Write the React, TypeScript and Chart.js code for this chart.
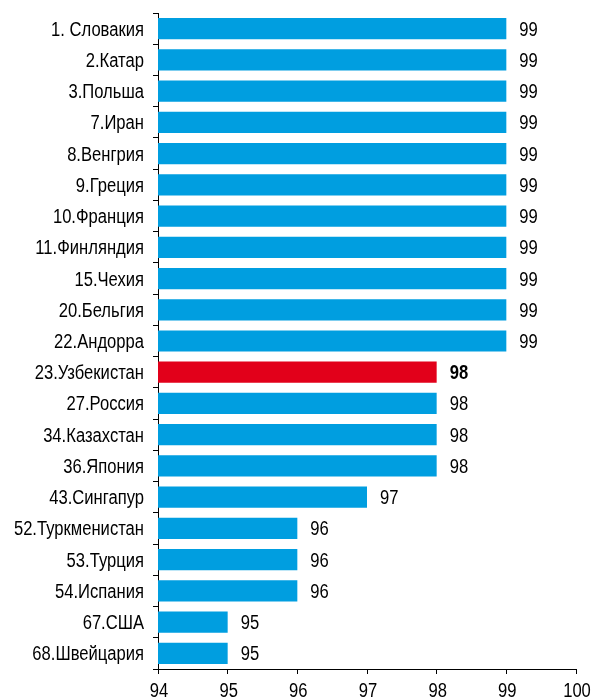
import React, { useEffect, useRef } from "react";
import { Chart, registerables } from "chart.js";

Chart.register(...registerables);

const categories = [
  "1. Словакия", "2.Катар", "3.Польша", "7.Иран", "8.Венгрия", "9.Греция",
  "10.Франция", "11.Финляндия", "15.Чехия", "20.Бельгия", "22.Андорра",
  "23.Узбекистан", "27.Россия", "34.Казахстан", "36.Япония", "43.Сингапур",
  "52.Туркменистан", "53.Турция", "54.Испания", "67.США", "68.Швейцария",
];
const values = [99, 99, 99, 99, 99, 99, 99, 99, 99, 99, 99, 98, 98, 98, 98, 97, 96, 96, 96, 95, 95];
const highlighted = ["23.Узбекистан"];
const xTicks = [94, 95, 96, 97, 98, 99, 100];

const BLUE = "#009ee0";
const RED = "#e2001a";
const FONT = "'Liberation Sans', Arial, sans-serif";
const FONT_SIZE = 20;
const NARROW = 0.83;

function narrowText(ctx: CanvasRenderingContext2D, text: string, x: number, y: number, align: CanvasTextAlign, bold: boolean) {
  ctx.save();
  ctx.font = `${bold ? "bold " : ""}${FONT_SIZE}px ${FONT}`;
  ctx.textAlign = align;
  ctx.fillStyle = "#000";
  ctx.translate(x, y);
  ctx.scale(NARROW, 1);
  ctx.fillText(text, 0, 0);
  ctx.restore();
}

const textLayer = {
  id: "textLayer",
  afterDraw(chart: any) {
    const ctx = chart.ctx as CanvasRenderingContext2D;
    const meta = chart.getDatasetMeta(0);
    const yScale = chart.scales.y;
    const xScale = chart.scales.x;
    ctx.save();
    ctx.textBaseline = "alphabetic";
    // category labels
    categories.forEach((c, i) => {
      const yc = yScale.getPixelForValue(i);
      narrowText(ctx, c, yScale.right - 14, yc + 7, "right", false);
    });
    // value labels
    meta.data.forEach((bar: any, i: number) => {
      const isHi = highlighted.includes(categories[i]);
      narrowText(ctx, String(values[i]), bar.x + 13, bar.y + 7, "left", isHi);
    });
    // x tick labels
    xTicks.forEach((v) => {
      const x = xScale.getPixelForValue(v);
      narrowText(ctx, String(v), x + 1, 697, "center", false);
    });
    ctx.restore();
  },
};

export default function App() {
  const ref = useRef<HTMLCanvasElement>(null);
  useEffect(() => {
    document.body.style.margin = "0";
    const chart = new Chart(ref.current!, {
      type: "bar",
      data: {
        labels: categories,
        datasets: [
          {
            data: values,
            backgroundColor: categories.map((c) => (highlighted.includes(c) ? RED : BLUE)),
            barPercentage: 0.68,
            categoryPercentage: 1,
            borderWidth: 0,
          },
        ],
      },
      options: {
        indexAxis: "y",
        animation: false,
        responsive: false,
        maintainAspectRatio: false,
        layout: { padding: { left: 0, right: 15, top: 13, bottom: 0 } },
        plugins: { legend: { display: false }, tooltip: { enabled: false } },
        scales: {
          x: {
            min: 94,
            max: 100,
            afterBuildTicks: (scale: any) => {
              scale.ticks = xTicks.map((v) => ({ value: v }));
            },
            afterFit: (scale: any) => {
              scale.height = 28;
            },
            grid: {
              drawOnChartArea: false,
              drawTicks: true,
              tickLength: 5,
              color: "#000",
              lineWidth: 1,
            },
            border: { display: true, color: "#000", width: 1 },
            ticks: { display: false },
          },
          y: {
            afterFit: (scale: any) => {
              scale.width = 158;
            },
            grid: {
              offset: true,
              drawOnChartArea: false,
              drawTicks: true,
              tickLength: 5,
              color: "#000",
              lineWidth: 1,
            },
            border: { display: true, color: "#000", width: 1 },
            ticks: { display: false, autoSkip: false },
          },
        },
      },
      plugins: [textLayer],
    });
    return () => chart.destroy();
  }, []);
  return <canvas ref={ref} width={591} height={697} style={{ display: "block" }} />;
}
